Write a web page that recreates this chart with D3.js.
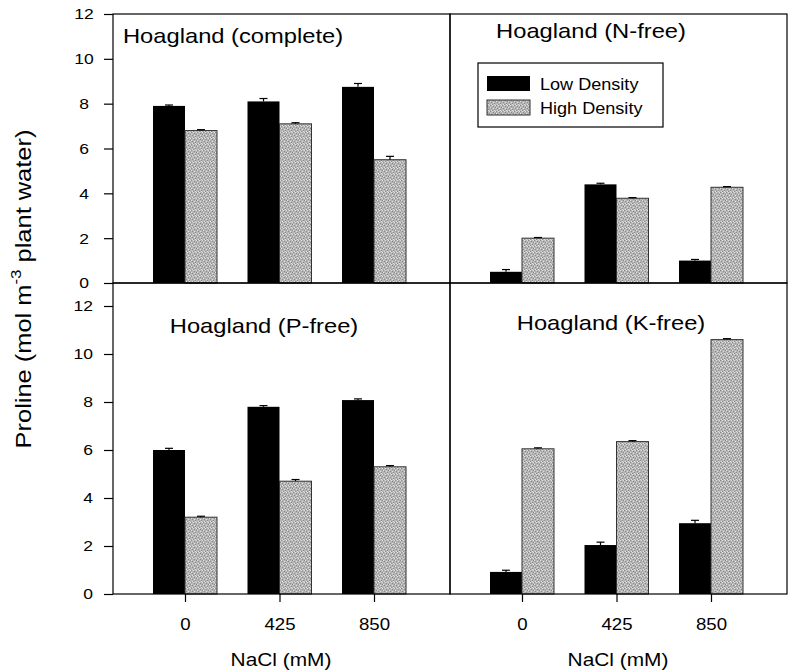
<!DOCTYPE html>
<html>
<head>
<meta charset="utf-8">
<script src="https://cdn.jsdelivr.net/npm/d3@7"></script>
<style>
  body { margin: 0; background: #fff; }
  text { font-family: "Liberation Sans", Arial, sans-serif; fill: #000; }
</style>
</head>
<body>
<svg id="chart" width="791" height="671"></svg>
<script>
// NaCl levels and axis ticks
var doses = ["0", "425", "850"];
var yTickValues = [0, 2, 4, 6, 8, 10, 12];
var seriesNames = ["Low Density", "High Density"];

// proline, mol m-3 plant water
var completeLow     = [7.9, 8.1, 8.75];
var completeLowErr  = [0.04, 0.13, 0.15];
var completeHigh    = [6.8, 7.1, 5.5];
var completeHighErr = [0.04, 0.05, 0.15];

var nFreeLow     = [0.5, 4.4, 1.0];
var nFreeLowErr  = [0.1, 0.05, 0.05];
var nFreeHigh    = [2.0, 3.78, 4.27];
var nFreeHighErr = [0.03, 0.03, 0.03];

var pFreeLow     = [6.0, 7.8, 8.08];
var pFreeLowErr  = [0.07, 0.05, 0.05];
var pFreeHigh    = [3.2, 4.7, 5.3];
var pFreeHighErr = [0.04, 0.07, 0.05];

var kFreeLow     = [0.92, 2.04, 2.95];
var kFreeLowErr  = [0.07, 0.12, 0.12];
var kFreeHigh    = [6.05, 6.35, 10.6];
var kFreeHighErr = [0.04, 0.04, 0.04];

var svg = d3.select("#chart");
var stretch = 1.13;   // the scan is a bit wider than plain Arial

function addText(parent, x, y, str, size, anchor) {
  return parent.append("text")
    .attr("transform", "translate(" + x + "," + y + ") scale(" + stretch + ",1)")
    .attr("text-anchor", anchor || "start")
    .style("font-size", size + "px")
    .text(str);
}

// speckled grey fill for the high density bars
var defs = svg.append("defs");
var pat = defs.append("pattern")
    .attr("id", "speckle")
    .attr("patternUnits", "userSpaceOnUse")
    .attr("width", 6).attr("height", 6);
pat.append("rect").attr("width", 6).attr("height", 6).attr("fill", "#b5b5b5");
var darkDots = [[0,0],[3,1],[1,3],[4,4],[5,2],[2,5]];
var lightDots = [[2,0],[5,0],[0,2],[3,3],[1,5],[4,5]];
darkDots.forEach(function(p){
  pat.append("rect").attr("x", p[0]).attr("y", p[1]).attr("width", 1).attr("height", 1).attr("fill", "#8a8a8a");
});
lightDots.forEach(function(p){
  pat.append("rect").attr("x", p[0]).attr("y", p[1]).attr("width", 1).attr("height", 1).attr("fill", "#e0e0e0");
});

var panels = [
  { title: "Hoagland (complete)", low: completeLow, lowErr: completeLowErr, high: completeHigh, highErr: completeHighErr,
    left: 113, top: 14, bottom: 283, yTop: 14, tx: 123, ty: 43, anchor: "start", axis: "top" },
  { title: "Hoagland (N-free)", low: nFreeLow, lowErr: nFreeLowErr, high: nFreeHigh, highErr: nFreeHighErr,
    left: 450, top: 14, bottom: 283, yTop: 14, tx: 591, ty: 38, anchor: "middle", legend: true },
  { title: "Hoagland (P-free)", low: pFreeLow, lowErr: pFreeLowErr, high: pFreeHigh, highErr: pFreeHighErr,
    left: 113, top: 283, bottom: 594, yTop: 306, tx: 264, ty: 333, anchor: "middle", axis: "bottom", xaxis: true },
  { title: "Hoagland (K-free)", low: kFreeLow, lowErr: kFreeLowErr, high: kFreeHigh, highErr: kFreeHighErr,
    left: 450, top: 283, bottom: 594, yTop: 306, tx: 611, ty: 330, anchor: "middle", xaxis: true }
];

var panelW = 337;
var barW = 32;

panels.forEach(function(p){
  var g = svg.append("g").attr("transform", "translate(" + p.left + ",0)");

  var y = d3.scaleLinear().domain([0, 12]).range([p.bottom, p.yTop]);
  var x = d3.scalePoint().domain(doses).range([72, 261]);

  var rows = doses.map(function(d, i){
    return { dose: d, low: p.low[i], lowErr: p.lowErr[i], high: p.high[i], highErr: p.highErr[i] };
  });

  // bars
  g.selectAll(".lowbar").data(rows).enter().append("rect")
    .attr("class", "lowbar")
    .attr("x", function(d){ return x(d.dose) - barW; })
    .attr("y", function(d){ return y(d.low); })
    .attr("width", barW)
    .attr("height", function(d){ return y(0) - y(d.low); })
    .attr("fill", "#000");

  g.selectAll(".highbar").data(rows).enter().append("rect")
    .attr("class", "highbar")
    .attr("x", function(d){ return x(d.dose); })
    .attr("y", function(d){ return y(d.high); })
    .attr("width", barW)
    .attr("height", function(d){ return y(0) - y(d.high); })
    .attr("fill", "url(#speckle)")
    .attr("stroke", "#333")
    .attr("stroke-width", 1);

  // error bars (upper half only)
  function errBar(cx, v, e){
    g.append("line").attr("x1", cx).attr("x2", cx).attr("y1", y(v)).attr("y2", y(v + e))
      .attr("stroke", "#000").attr("stroke-width", 1.2);
    g.append("line").attr("x1", cx - 4).attr("x2", cx + 4).attr("y1", y(v + e)).attr("y2", y(v + e))
      .attr("stroke", "#000").attr("stroke-width", 1.2);
  }
  rows.forEach(function(d){
    errBar(x(d.dose) - barW / 2, d.low, d.lowErr);
    errBar(x(d.dose) + barW / 2, d.high, d.highErr);
  });

  // frame
  g.append("rect")
    .attr("x", 0).attr("y", p.top)
    .attr("width", panelW).attr("height", p.bottom - p.top)
    .attr("fill", "none").attr("stroke", "#000").attr("stroke-width", 1.2);

  // y axis on the left panels
  if (p.axis) {
    var ax = g.append("g").call(
      d3.axisLeft(y).tickValues(yTickValues).tickSize(9).tickPadding(11).tickFormat(d3.format("d"))
    );
    ax.select(".domain").remove();
    ax.selectAll("line").attr("stroke", "#000").attr("stroke-width", 1.2);
    var lx = p.axis === "top" ? -29 : -20;
    ax.selectAll("text")
      .attr("x", 0)
      .attr("transform", "translate(" + lx + ",0) scale(" + stretch + ",1)")
      .attr("text-anchor", p.axis === "top" ? "middle" : "end")
      .attr("fill", "#000")
      .style("font-size", "15.5px")
      .style("font-family", "'Liberation Sans', Arial, sans-serif");
  }

  // x axis on the bottom panels
  if (p.xaxis) {
    var bx = g.append("g").attr("transform", "translate(0," + p.bottom + ")")
      .call(d3.axisBottom(x).tickSize(8).tickPadding(0));
    bx.select(".domain").remove();
    bx.selectAll("line").attr("stroke", "#000").attr("stroke-width", 1.2);
    bx.selectAll("text")
      .attr("y", 0).attr("dy", null)
      .attr("transform", "translate(0,36) scale(" + stretch + ",1)")
      .attr("fill", "#000")
      .style("font-size", "16.5px")
      .style("font-family", "'Liberation Sans', Arial, sans-serif");
    addText(g, 168, 666, "NaCl (mM)", 18.5, "middle");
  }

  // panel title
  addText(svg, p.tx, p.ty, p.title, 21, p.anchor);

  // legend
  if (p.legend) {
    var lg = svg.append("g").attr("transform", "translate(478,63)");
    lg.append("rect").attr("width", 185).attr("height", 64)
      .attr("fill", "#fff").attr("stroke", "#000").attr("stroke-width", 1.2);
    var fills = ["#000", "url(#speckle)"];
    seriesNames.forEach(function(name, i){
      lg.append("rect")
        .attr("x", 9).attr("y", 13 + i * 24)
        .attr("width", 43).attr("height", 15)
        .attr("fill", fills[i])
        .attr("stroke", i ? "#333" : "none");
      addText(lg, 62, 27 + i * 24, name, 16);
    });
  }
});

// shared y axis title
var yt = svg.append("text")
  .attr("transform", "translate(31,289) rotate(-90) scale(" + stretch + ",1)")
  .attr("text-anchor", "middle")
  .style("font-size", "22.5px");
yt.append("tspan").text("Proline (mol m");
yt.append("tspan").attr("dy", -10).style("font-size", "15px").text("-3");
yt.append("tspan").attr("dy", 10).text(" plant water)");
</script>
</body>
</html>
